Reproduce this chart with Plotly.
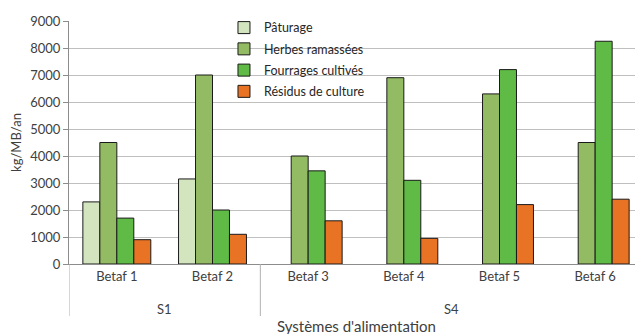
import plotly.graph_objects as go

betafs = ["Betaf 1", "Betaf 2", "Betaf 3", "Betaf 4", "Betaf 5", "Betaf 6"]
systems = ["S1", "S4"]
system_centers = [0.5, 3.5]       # category index position of each group label
system_bounds = [-0.5, 1.5, 5.5]  # category boundaries between groups

paturage = [2300, 3150, None, None, None, None]
herbes = [4500, 7000, 4000, 6900, 6300, 4500]
fourrages = [1700, 2000, 3450, 3100, 7200, 8250]
residus = [900, 1100, 1600, 950, 2200, 2400]

series = [
    ("Pâturage", paturage, "#D2E5BF"),
    ("Herbes ramassées", herbes, "#93BB63"),
    ("Fourrages cultivés", fourrages, "#5FBB46"),
    ("Résidus de culture", residus, "#E97324"),
]

font_family = "Lato, Open Sans, sans-serif"
text_color = "#404040"
div_color = "#B0B0B0"

fig = go.Figure()
for i, (name, vals, col) in enumerate(series):
    fig.add_trace(go.Bar(
        name=name,
        x=betafs,
        y=vals,
        marker=dict(color=col, line=dict(color="#1a1a1a", width=1)),
        legendgroup=f"g{i}",
    ))

# group labels and dividers (category-axis coordinates)
for s, c in zip(systems, system_centers):
    fig.add_annotation(x=c, xref="x", y=-0.185, yref="paper", text=s,
                       showarrow=False, yanchor="middle",
                       font=dict(size=13, color=text_color, family=font_family))
for b in system_bounds:
    fig.add_shape(type="line", xref="x", yref="paper", x0=b, x1=b, y0=0, y1=-0.214,
                  line=dict(color=div_color, width=1))
fig.add_annotation(x=0.5, xref="paper", y=-0.255, yref="paper",
                   text="Systèmes d'alimentation", showarrow=False, yanchor="middle",
                   font=dict(size=15, color=text_color, family=font_family))

fig.update_layout(
    width=635, height=326,
    margin=dict(l=61, r=0, t=13, b=70, autoexpand=False),
    paper_bgcolor="white", plot_bgcolor="white",
    barmode="group", bargap=0.29, bargroupgap=0,
    font=dict(family=font_family, size=13, color=text_color),
    showlegend=True,
    legend=dict(
        x=0.27, y=1.033, xanchor="left", yanchor="top",
        bgcolor="rgba(0,0,0,0)",
        font=dict(size=12.5, color="#262626"),
        traceorder="grouped", tracegroupgap=2,
        itemwidth=30,
    ),
    xaxis=dict(
        type="category", range=[-0.5, 5.5], automargin=False,
        showline=True, linecolor="#8C8C8C", linewidth=1,
        ticks="", showgrid=False,
        tickfont=dict(size=13, color=text_color),
    ),
    yaxis=dict(
        range=[0, 9000], dtick=1000, automargin=False,
        showgrid=True, gridcolor="#BFBFBF", gridwidth=1,
        showline=True, linecolor="#8C8C8C", linewidth=1,
        ticks="outside", ticklen=5, tickcolor="#8C8C8C",
        tickfont=dict(size=13, color=text_color),
        title=dict(text="kg/MB/an", font=dict(size=13, color=text_color), standoff=11),
        zeroline=False,
    ),
)

fig.write_html("out.html")
